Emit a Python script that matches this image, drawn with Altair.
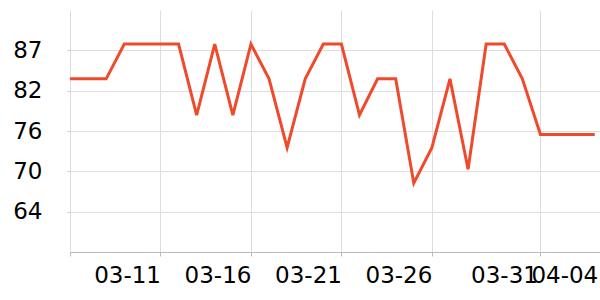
import altair as alt
import pandas as pd

dates = ["2024-03-06", "2024-03-07", "2024-03-08", "2024-03-09", "2024-03-10",
         "2024-03-11", "2024-03-12", "2024-03-13", "2024-03-14", "2024-03-15",
         "2024-03-16", "2024-03-17", "2024-03-18", "2024-03-19", "2024-03-20",
         "2024-03-21", "2024-03-22", "2024-03-23", "2024-03-24", "2024-03-25",
         "2024-03-26", "2024-03-27", "2024-03-28", "2024-03-29", "2024-03-30",
         "2024-03-31", "2024-04-01", "2024-04-02", "2024-04-03", "2024-04-04"]
values = [83.3, 83.3, 83.3, 88.3, 88.3, 88.3, 88.3, 78.1, 88.3, 78.1,
          88.3, 83.3, 73.4, 83.3, 88.3, 88.3, 78.1, 83.3, 83.3, 68.3,
          73.4, 83.3, 70.3, 88.3, 88.3, 83.3, 75.3, 75.3, 75.3, 75.3]

tick_dates = ["2024-03-06", "2024-03-11", "2024-03-16", "2024-03-21",
              "2024-03-26", "2024-04-01", "2024-04-04"]
tick_labels = ["", "03-11", "03-16", "03-21", "03-26", "03-31", "04-04"]

y_ticks = [64.2, 70.0, 75.8, 81.6, 87.4]
y_domain = [58.4, 93.2]
x_domain = ["2024-03-06T00:00:00Z", "2024-04-04T07:00:00Z"]


def ms(s):
    return int(pd.Timestamp(s, tz="UTC").value // 10**6)


tick_ms = [ms(d) for d in tick_dates]
label_expr = "''"
for t, lab in reversed(list(zip(tick_ms, tick_labels))):
    label_expr = f"time(datum.value) == {t} ? '{lab}' : ({label_expr})"
hide_last = {"condition": {"test": f"time(datum.value) == {tick_ms[-1]}", "value": 0}, "value": 1}
label_shift = {"condition": [
    {"test": f"time(datum.value) == {tick_ms[-2]}", "value": -3},
    {"test": f"time(datum.value) == {tick_ms[-1]}", "value": 3}], "value": 0}

df = pd.DataFrame({"date": [ms(d) for d in dates], "value": values})

chart = alt.Chart(df).mark_line(color="#ee4a2b", strokeWidth=3).encode(
    x=alt.X("date:T",
            scale=alt.Scale(type="utc", domain=[ms(d) for d in x_domain], nice=False),
            axis=alt.Axis(values=tick_ms, labelExpr=label_expr, title=None,
                          labelAlign="right", labelFlush=False, labelOverlap=False,
                          labelFontSize=23, labelFont="DejaVu Sans", labelColor="#000",
                          labelPadding=8, tickSize=4, tickColor="#bbb", domainColor="#bbb",
                          gridColor="#ddd", grid=True, labelOffset=label_shift,
                          gridOpacity=hide_last, tickOpacity=hide_last)),
    y=alt.Y("value:Q",
            scale=alt.Scale(domain=y_domain, nice=False, zero=False),
            axis=alt.Axis(values=y_ticks, format=".0f", title=None, domain=False,
                          labelFontSize=23, labelFont="DejaVu Sans", labelColor="#000",
                          labelPadding=25, tickSize=3, tickColor="#ccc",
                          gridColor="#ddd", grid=True)),
).properties(
    width=530, height=242,
    autosize=alt.AutoSizeParams(type="none"),
    padding={"left": 70, "top": 10, "right": 0, "bottom": 48},
).configure_view(stroke=None)

chart.save("out.html", embed_options={"renderer": "svg", "actions": False})
